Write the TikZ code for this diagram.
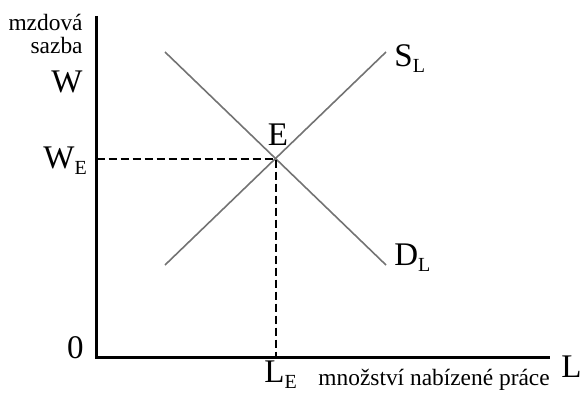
\documentclass[tikz,border=0pt]{standalone}
\usepackage{fontspec}
\setmainfont{Liberation Serif}
\usetikzlibrary{positioning}

\newcommand{\lsub}[2]{#1\raisebox{-3pt}{\fontsize{10}{10}\selectfont #2}}

\begin{document}
\begin{tikzpicture}[
    x=0.5pt, y=0.5pt,
    axis/.style={line width=1.5pt},
    curve/.style={line width=0.8pt, black!55},
    guide/.style={line width=1pt, dash pattern=on 4pt off 2pt},
    big/.style={inner sep=0pt, font=\fontsize{16.5}{17}\selectfont},
    small/.style={inner sep=0pt, font=\fontsize{11.7}{12}\selectfont}
]
    \useasboundingbox (0,0) rectangle (583,392);

    % ====== Axes ======
    \coordinate (O) at (96.5,34.5);
    \coordinate (ytop) at (96.5,376);
    \coordinate (xend) at (550,34.5);
    \draw[axis] (ytop) -- (O) -- (xend);

    % ====== Supply and demand ======
    \coordinate (s1) at (165,127);
    \coordinate (s2) at (386,340);
    \coordinate (d1) at (165,340);
    \coordinate (d2) at (386,127);
    \coordinate (E) at (275.5,233.5);
    \draw[curve] (s1) -- (s2);
    \draw[curve] (d1) -- (d2);

    \draw[guide] (O |- E) -- (E) -- (E |- O);

    % ====== Labels ======
    \node[small, anchor=base east] (mzdova) at (83,361) {mzdová};
    \node[small, anchor=base east] (sazba) at (83,339) {sazba};
    \node[big, anchor=base east] (W) at (83,300) {W};
    \node[big, anchor=base west] (WE) at (43,224) {\lsub{W}{E}};
    \node[big, anchor=base] (Elab) at (278,247) {E};
    \node[big, anchor=base west] (SL) at (394,326) {\lsub{S}{L}};
    \node[big, anchor=base west] (DL) at (394,127) {\lsub{D}{L}};
    \node[big, anchor=base east] (zero) at (84,34) {0};
    \node[big, anchor=base west] (LE) at (264,10) {\lsub{L}{E}};
    \node[small, anchor=base west] (qty) at (318,7) {množství nabízené práce};
    \node[big, anchor=base west] (L) at (561,15) {L};
\end{tikzpicture}
\end{document}
